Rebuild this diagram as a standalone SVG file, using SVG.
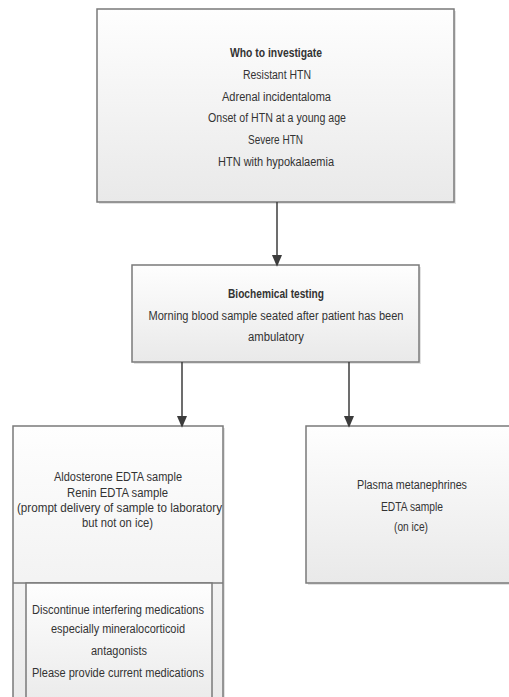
<svg xmlns="http://www.w3.org/2000/svg" width="509" height="697" viewBox="0 0 509 697">
<defs>
<linearGradient id="g" x1="0" y1="0" x2="0" y2="1">
<stop offset="0" stop-color="#fefefe"/>
<stop offset="1" stop-color="#e9e9e9"/>
</linearGradient>
<marker id="ah" markerWidth="12" markerHeight="14" refX="12" refY="6" orient="auto" markerUnits="userSpaceOnUse" viewBox="0 0 14 12">
<path d="M0,0 L14,6 L0,12 Z" fill="#3c3c3c"/>
</marker>
</defs>
<style>
.box{fill:url(#g);stroke:#7a7a7a;stroke-width:1.5}
.sh{fill:#cfcfcf;opacity:0.6}
.ln{stroke:#7a7a7a;stroke-width:1.5;fill:none}
.t{font-family:"Liberation Sans",Arial,sans-serif;font-size:12px;fill:#333;text-anchor:middle}
.b{font-weight:bold}
.c{stroke:#3c3c3c;stroke-width:1.5;fill:none}
</style>
<rect width="509" height="697" fill="#fff"/>
<g id="who">
<rect class="sh" x="99" y="11" width="357" height="193"/>
<rect class="box" x="97" y="9" width="357" height="193"/>
<text class="t b" x="276" y="57" textLength="92" lengthAdjust="spacingAndGlyphs">Who to investigate</text>
<text class="t" x="277" y="78.5" textLength="68" lengthAdjust="spacingAndGlyphs">Resistant HTN</text>
<text class="t" x="276.5" y="100.5" textLength="109" lengthAdjust="spacingAndGlyphs">Adrenal incidentaloma</text>
<text class="t" x="277" y="122" textLength="138" lengthAdjust="spacingAndGlyphs">Onset of HTN at a young age</text>
<text class="t" x="275.5" y="144" textLength="55" lengthAdjust="spacingAndGlyphs">Severe HTN</text>
<text class="t" x="276" y="166" textLength="116" lengthAdjust="spacingAndGlyphs">HTN with hypokalaemia</text>
</g>
<g id="biochem">
<rect class="sh" x="134" y="267" width="287" height="97"/>
<rect class="box" x="132" y="265" width="287" height="97"/>
<text class="t b" x="276" y="298" textLength="96" lengthAdjust="spacingAndGlyphs">Biochemical testing</text>
<text class="t" x="276" y="319.5" textLength="255" lengthAdjust="spacingAndGlyphs">Morning blood sample seated after patient has been</text>
<text class="t" x="276" y="341" textLength="56" lengthAdjust="spacingAndGlyphs">ambulatory</text>
</g>
<g id="aldo">
<rect class="sh" x="15" y="428" width="210" height="280"/>
<rect class="box" x="13" y="426" width="210" height="290"/>
<line class="ln" x1="13" y1="583" x2="223" y2="583"/>
<text class="t" x="118" y="481" textLength="128" lengthAdjust="spacingAndGlyphs">Aldosterone EDTA sample</text>
<text class="t" x="117.5" y="496.5" textLength="101" lengthAdjust="spacingAndGlyphs">Renin EDTA sample</text>
<text class="t" x="119.5" y="512" textLength="205" lengthAdjust="spacingAndGlyphs">(prompt delivery of sample to laboratory</text>
<text class="t" x="117.5" y="527" textLength="71" lengthAdjust="spacingAndGlyphs">but not on ice)</text>
</g>
<g id="meds">
<rect class="box" x="26" y="583" width="186" height="130"/>
<text class="t" x="118" y="614" textLength="172" lengthAdjust="spacingAndGlyphs">Discontinue interfering medications</text>
<text class="t" x="118" y="633" textLength="134" lengthAdjust="spacingAndGlyphs">especially mineralocorticoid</text>
<text class="t" x="119" y="655" textLength="56" lengthAdjust="spacingAndGlyphs">antagonists</text>
<text class="t" x="118" y="677" textLength="172" lengthAdjust="spacingAndGlyphs">Please provide current  medications</text>
</g>
<g id="metan">
<rect class="sh" x="308" y="428" width="212" height="157"/>
<rect class="box" x="306" y="426" width="212" height="157"/>
<text class="t" x="412" y="489" textLength="110" lengthAdjust="spacingAndGlyphs">Plasma metanephrines</text>
<text class="t" x="412" y="511" textLength="62" lengthAdjust="spacingAndGlyphs">EDTA sample</text>
<text class="t" x="411" y="531" textLength="34" lengthAdjust="spacingAndGlyphs">(on ice)</text>
</g>
<g id="connectors">
<line class="c" x1="277" y1="202" x2="277" y2="265" marker-end="url(#ah)"/>
<line class="c" x1="182" y1="362" x2="182" y2="426" marker-end="url(#ah)"/>
<line class="c" x1="349" y1="362" x2="349" y2="426" marker-end="url(#ah)"/>
</g>
</svg>
